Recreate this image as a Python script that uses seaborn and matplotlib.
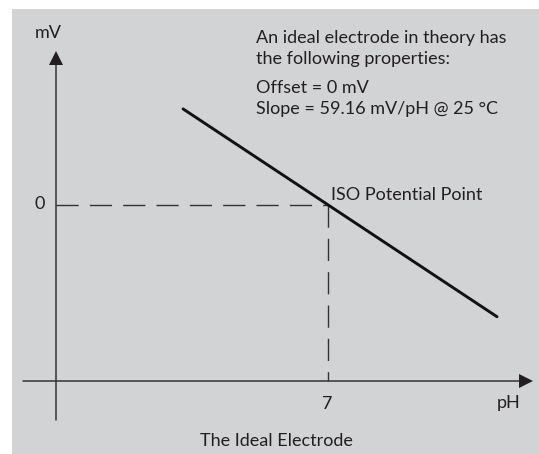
import matplotlib
matplotlib.use("Agg")
import matplotlib.pyplot as plt
import seaborn as sns
import pandas as pd
from matplotlib.patches import Rectangle, Polygon

# ---- data ----
ph = [3.27, 11.35]          # pH values of the electrode response line
mv = [221.0, -257.0]        # mV values
iso_ph = 7                  # ISO potential point
iso_mv = 0
x_tick_labels = ["7"]
y_tick_labels = ["0"]
title = "The Ideal Electrode"
note_lines = ["An ideal electrode in theory has", "the following properties:"]
note_props = ["Offset = 0 mV", "Slope = 59.16 mV/pH @ 25 °C"]
iso_label = "ISO Potential Point"

sns.set_theme(style="white")
plt.rcParams['font.family'] = ['Lato', 'DejaVu Sans']

W, H = 539, 454
fig = plt.figure(figsize=(W / 100, H / 100), dpi=100)
fig.patch.set_facecolor("white")
ax = fig.add_axes([0, 0, 1, 1])
ax.set_axis_off()

# pixel <-> data mapping (layout)
px_per_ph = (328 - 56) / 7.0
mv_per_px = 2.30
ax.set_xlim((0 - 56) / px_per_ph, (W - 56) / px_per_ph)
ax.set_ylim(-(H - 205) * mv_per_px, 205 * mv_per_px)

def fx(x):
    return x / W

def fy(y):
    return 1 - y / H

bg = "#d2d3d5"
ink = "#231f20"
ax.add_patch(Rectangle((fx(12), 0), 1 - fx(12), fy(9), transform=ax.transAxes,
                       facecolor=bg, edgecolor="none", zorder=0))

df = pd.DataFrame({"pH": ph, "mV": mv})
sns.lineplot(data=df, x="pH", y="mV", ax=ax, color="#111111", linewidth=2.1,
             zorder=5, legend=False)

# axis lines (decoration)
axis_y_mv = -(381 - 205) * mv_per_px
ax.plot([fx(23), fx(520)], [fy(381), fy(381)], transform=ax.transAxes,
        color="#333333", lw=1.1, zorder=3)
ax.plot([fx(56), fx(56)], [fy(420), fy(64)], transform=ax.transAxes,
        color="#333333", lw=1.1, zorder=3)
ax.add_patch(Polygon([(fx(519), fy(374)), (fx(533), fy(381)), (fx(519), fy(388))],
                     closed=True, transform=ax.transAxes, facecolor=ink,
                     edgecolor="none", zorder=4))
ax.add_patch(Polygon([(fx(49), fy(65)), (fx(56), fy(51)), (fx(63), fy(65))],
                     closed=True, transform=ax.transAxes, facecolor=ink,
                     edgecolor="none", zorder=4))

# dashed guide lines to the ISO point
ax.plot([0, iso_ph], [iso_mv, iso_mv], color="#333333", lw=1.0,
        dashes=(16, 8), zorder=2)
ax.plot([iso_ph, iso_ph], [iso_mv, axis_y_mv], color="#333333", lw=1.0,
        dashes=(16, 8), zorder=2)

fs = 13
ax.text(fx(48), fy(33), "mV", transform=ax.transAxes, ha="center", va="center",
        fontsize=fs, color=ink)
ax.text(fx(40), fy(204), y_tick_labels[0], transform=ax.transAxes, ha="center",
        va="center", fontsize=fs, color=ink)
ax.text(fx(327), fy(404), x_tick_labels[0], transform=ax.transAxes, ha="center",
        va="center", fontsize=fs, color=ink)
ax.text(fx(509), fy(403), "pH", transform=ax.transAxes, ha="center",
        va="center", fontsize=fs, color=ink)
ax.text(fx(276), fy(441), title, transform=ax.transAxes, ha="center",
        va="center", fontsize=fs, color=ink)
for i, t in enumerate(note_lines):
    ax.text(fx(256), fy(38 + 21 * i), t, transform=ax.transAxes, ha="left",
            va="center", fontsize=fs, color=ink)
for i, t in enumerate(note_props):
    ax.text(fx(256), fy(88 + 21 * i), t, transform=ax.transAxes, ha="left",
            va="center", fontsize=fs, color=ink)
ax.text(fx(331), fy(195), iso_label, transform=ax.transAxes, ha="left",
        va="center", fontsize=fs, color=ink)

fig.savefig("out.png", dpi=100, facecolor=fig.get_facecolor())
